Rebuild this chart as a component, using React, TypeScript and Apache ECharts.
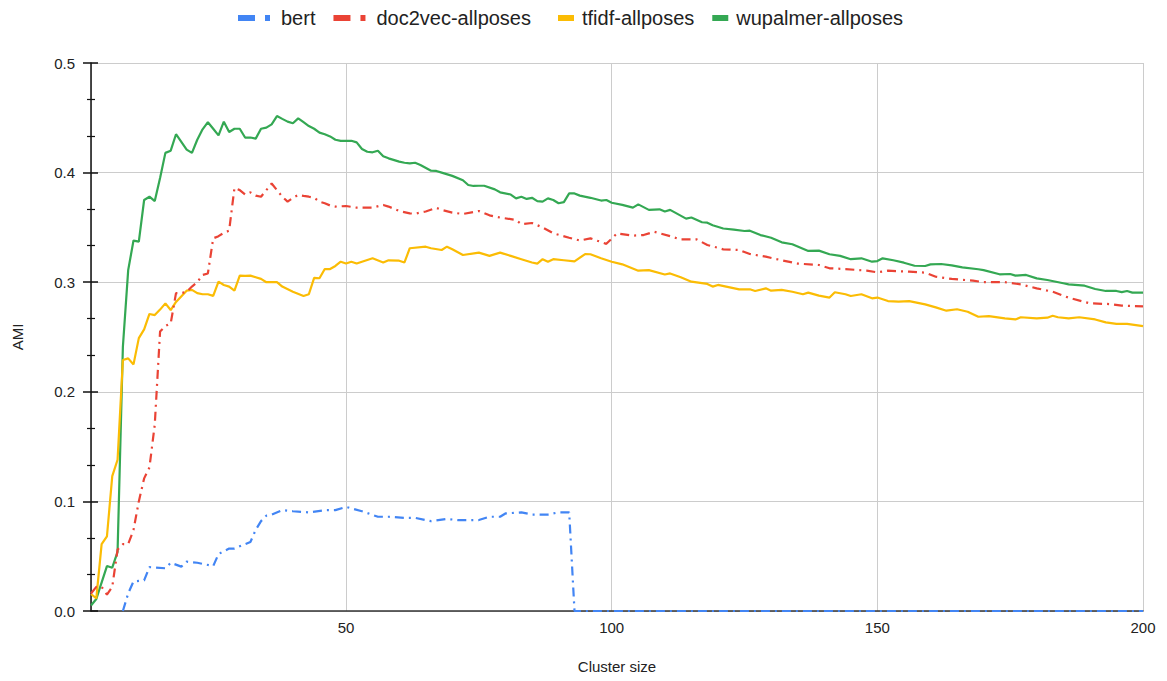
import React, { useEffect, useRef } from "react";
import * as echarts from "echarts";

const seriesNames = ["bert", "doc2vec-allposes", "tfidf-allposes", "wupalmer-allposes"];
const seriesColors = ["#4285F4", "#EA4335", "#FBBC04", "#34A853"];
const yTickLabels = ["0.0", "0.1", "0.2", "0.3", "0.4", "0.5"];

const bertData: [number, number][] = [
  [8, 0.0], [9, 0.016], [10, 0.027], [12, 0.028], [13, 0.04], [16, 0.039], [17, 0.044],
  [19, 0.0405], [20, 0.045], [22, 0.044], [25, 0.041], [26, 0.052], [28, 0.057], [29, 0.057],
  [32, 0.063], [33, 0.074], [34, 0.082], [35, 0.087], [36, 0.088], [38, 0.092], [40, 0.091],
  [43, 0.09], [46, 0.092], [48, 0.092], [50, 0.095], [53, 0.091], [56, 0.086], [58, 0.086],
  [61, 0.085], [63, 0.085], [66, 0.082], [69, 0.084], [71, 0.083], [73, 0.083], [75, 0.083],
  [77, 0.086], [79, 0.086], [80, 0.089], [83, 0.09], [85, 0.088], [88, 0.088], [90, 0.09],
  [92, 0.09], [93, 0.0], [120, 0.0], [150, 0.0], [180, 0.0], [200, 0.0],
];

const doc2vecData: [number, number][] = [
  [2, 0.016], [3, 0.022], [4, 0.022], [5, 0.015], [6, 0.022], [7, 0.056], [8, 0.061], [9, 0.061],
  [10, 0.074], [11, 0.1], [12, 0.121], [13, 0.131], [14, 0.17], [15, 0.255], [16, 0.26],
  [17, 0.2625], [18, 0.29], [19, 0.29], [20, 0.2913], [21, 0.296], [22, 0.3], [23, 0.3066],
  [24, 0.308], [25, 0.34], [26, 0.342], [27, 0.345], [28, 0.347], [29, 0.386], [30, 0.384],
  [31, 0.38], [32, 0.382], [33, 0.379], [34, 0.378], [35, 0.384], [36, 0.39], [37, 0.384],
  [38, 0.378], [39, 0.3735], [40, 0.377], [41, 0.3796], [42, 0.3787], [43, 0.378], [44, 0.377],
  [45, 0.3735], [46, 0.372], [47, 0.37], [48, 0.369], [50, 0.3695], [52, 0.368], [55, 0.368],
  [57, 0.3705], [58, 0.369], [60, 0.365], [62, 0.3628], [63, 0.3625], [65, 0.3645], [67, 0.3678],
  [68, 0.366], [70, 0.3635], [72, 0.3622], [75, 0.365], [77, 0.361], [79, 0.359], [82, 0.3568],
  [83, 0.353], [85, 0.354], [87, 0.35], [89, 0.3446], [92, 0.3406], [94, 0.338], [96, 0.34],
  [99, 0.335], [101, 0.3446], [104, 0.3425], [106, 0.343], [108, 0.346], [111, 0.342],
  [113, 0.339], [116, 0.339], [118, 0.334], [121, 0.33], [124, 0.3294], [126, 0.3257],
  [129, 0.3233], [132, 0.32], [135, 0.317], [139, 0.3157], [141, 0.3127], [144, 0.312],
  [148, 0.3105], [150, 0.309], [152, 0.3105], [156, 0.3096], [159, 0.3087], [161, 0.305],
  [164, 0.303], [168, 0.3014], [170, 0.3], [174, 0.3], [177, 0.298], [180, 0.2944],
  [183, 0.2913], [186, 0.2859], [190, 0.2807], [194, 0.28], [196, 0.2786], [200, 0.278],
];

const tfidfData: [number, number][] = [
  [2, 0.0155], [3, 0.0116], [4, 0.061], [5, 0.068], [6, 0.123], [7, 0.138], [8, 0.229],
  [9, 0.2305], [10, 0.225], [11, 0.249], [12, 0.257], [13, 0.271], [14, 0.27], [15, 0.275],
  [16, 0.2807], [17, 0.2746], [18, 0.282], [20, 0.2923], [21, 0.293], [22, 0.29], [23, 0.289],
  [24, 0.289], [25, 0.2875], [26, 0.3005], [27, 0.2975], [28, 0.296], [29, 0.2923], [30, 0.306],
  [31, 0.3057], [32, 0.306], [33, 0.3045], [34, 0.303], [35, 0.3], [37, 0.3], [38, 0.296],
  [40, 0.2913], [42, 0.2874], [43, 0.289], [44, 0.304], [45, 0.3036], [46, 0.312], [47, 0.312],
  [48, 0.3148], [49, 0.3187], [50, 0.317], [51, 0.3187], [52, 0.317], [53, 0.3187], [55, 0.3218],
  [57, 0.318], [58, 0.32], [60, 0.3196], [61, 0.318], [62, 0.331], [65, 0.3324], [66, 0.331],
  [68, 0.3294], [69, 0.3324], [70, 0.33], [72, 0.3248], [75, 0.327], [77, 0.324], [79, 0.327],
  [81, 0.324], [83, 0.321], [85, 0.318], [86, 0.317], [87, 0.321], [88, 0.3187], [89, 0.321],
  [91, 0.32], [93, 0.319], [95, 0.3257], [96, 0.3255], [98, 0.3218], [100, 0.3187],
  [102, 0.3163], [105, 0.3105], [107, 0.311], [110, 0.307], [111, 0.308], [113, 0.3045],
  [115, 0.3005], [118, 0.2984], [119, 0.296], [120, 0.2975], [124, 0.2935], [126, 0.2935],
  [127, 0.292], [129, 0.2944], [130, 0.2923], [132, 0.293], [134, 0.2913], [136, 0.289],
  [137, 0.2905], [139, 0.2877], [141, 0.286], [142, 0.2908], [144, 0.289], [145, 0.2874],
  [147, 0.289], [149, 0.2853], [150, 0.286], [152, 0.2828], [154, 0.2822], [156, 0.2828],
  [159, 0.2798], [161, 0.277], [163, 0.274], [165, 0.2753], [167, 0.273], [169, 0.2685],
  [171, 0.269], [174, 0.267], [176, 0.266], [177, 0.268], [180, 0.267], [182, 0.2676],
  [183, 0.2694], [184, 0.268], [186, 0.267], [188, 0.268], [191, 0.266], [193, 0.2634],
  [195, 0.262], [197, 0.262], [200, 0.26],
];

const wupalmerData: [number, number][] = [
  [2, 0.005], [3, 0.011], [5, 0.041], [6, 0.0395], [7, 0.054], [8, 0.241], [9, 0.311],
  [10, 0.338], [11, 0.337], [12, 0.375], [13, 0.378], [14, 0.374], [15, 0.395], [16, 0.418],
  [17, 0.42], [18, 0.435], [20, 0.421], [21, 0.418], [22, 0.43], [23, 0.4395], [24, 0.446],
  [25, 0.44], [26, 0.434], [27, 0.4465], [28, 0.437], [29, 0.44], [30, 0.44], [31, 0.432],
  [32, 0.432], [33, 0.431], [34, 0.44], [35, 0.441], [36, 0.444], [37, 0.4516], [38, 0.449],
  [39, 0.4465], [40, 0.445], [41, 0.4495], [42, 0.446], [43, 0.4425], [44, 0.44], [45, 0.4365],
  [46, 0.435], [47, 0.433], [48, 0.43], [49, 0.429], [51, 0.429], [52, 0.4276], [53, 0.4215],
  [54, 0.419], [55, 0.4185], [56, 0.42], [57, 0.415], [58, 0.413], [60, 0.41], [61, 0.409],
  [62, 0.4085], [63, 0.409], [64, 0.407], [66, 0.4017], [67, 0.4015], [68, 0.4], [70, 0.397],
  [72, 0.393], [73, 0.3887], [74, 0.3878], [75, 0.388], [76, 0.388], [78, 0.3847], [79, 0.382],
  [81, 0.38], [82, 0.3765], [83, 0.378], [84, 0.376], [85, 0.377], [86, 0.374], [87, 0.3735],
  [88, 0.3765], [89, 0.375], [90, 0.372], [91, 0.373], [92, 0.381], [93, 0.381], [94, 0.379],
  [96, 0.377], [98, 0.3745], [99, 0.375], [100, 0.3725], [102, 0.3705], [104, 0.368],
  [105, 0.371], [107, 0.366], [109, 0.3665], [110, 0.3645], [111, 0.366], [114, 0.358],
  [115, 0.359], [117, 0.3547], [118, 0.3543], [119, 0.352], [121, 0.349], [123, 0.348],
  [125, 0.3467], [126, 0.347], [128, 0.343], [130, 0.3406], [132, 0.3364], [134, 0.3346],
  [137, 0.3285], [139, 0.3288], [141, 0.3255], [143, 0.324], [145, 0.321], [147, 0.3218],
  [149, 0.3187], [150, 0.3193], [151, 0.3218], [153, 0.32], [155, 0.3178], [157, 0.315],
  [159, 0.3148], [160, 0.3163], [162, 0.3166], [164, 0.3154], [166, 0.3136], [169, 0.3118],
  [170, 0.311], [173, 0.3072], [175, 0.3075], [176, 0.306], [178, 0.3066], [180, 0.3035],
  [182, 0.302], [185, 0.299], [186, 0.298], [189, 0.2968], [191, 0.2938], [193, 0.292],
  [194, 0.292], [195, 0.292], [196, 0.291], [197, 0.292], [198, 0.2905], [200, 0.2905],
];

const allData = [bertData, doc2vecData, tfidfData, wupalmerData];
const dashPattern = [9, 5, 2, 5];

const FONT = "'Liberation Sans', Arial, sans-serif";

export default function App() {
  const ref = useRef<HTMLDivElement>(null);

  useEffect(() => {
    if (!ref.current) return;
    const chart = echarts.init(ref.current, undefined, { renderer: "svg" });

    const dashIcon = "path://M0,0H17V6H0Z M27,0H32V6H27Z";
    const solidIcon = "path://M0,0H16V6H0Z";

    const series = seriesNames.map((name, i) => ({
      name,
      type: "line",
      data: allData[i],
      showSymbol: false,
      symbol: "none",
      xAxisIndex: 0,
      yAxisIndex: 0,
      lineStyle: {
        color: seriesColors[i],
        width: 2.2,
        type: i < 2 ? dashPattern : "solid",
        cap: "butt",
      },
      itemStyle: { color: seriesColors[i] },
      z: 10 - i,
    }));

    chart.setOption({
      animation: false,
      textStyle: { fontFamily: FONT },
      legend: [
        {
          left: 238,
          top: 8,
          padding: 0,
          itemWidth: 32,
          itemHeight: 6,
          itemGap: 18,
          data: [
            { name: seriesNames[0], icon: dashIcon },
            { name: seriesNames[1], icon: dashIcon },
          ],
          textStyle: { fontSize: 20, color: "#222", fontFamily: FONT, padding: [0, 0, 0, 6] },
        },
        {
          left: 558,
          top: 8,
          padding: 0,
          itemWidth: 16,
          itemHeight: 6,
          itemGap: 18,
          data: [
            { name: seriesNames[2], icon: solidIcon },
            { name: seriesNames[3], icon: solidIcon },
          ],
          textStyle: { fontSize: 20, color: "#222", fontFamily: FONT, padding: [0, 0, 0, 3] },
        },
      ],
      grid: { left: 91, right: 24, top: 63, bottom: 70, containLabel: false },
      xAxis: {
        type: "value",
        min: 2,
        max: 200,
        splitNumber: 4,
        name: "Cluster size",
        nameLocation: "middle",
        nameGap: 48,
        nameTextStyle: { fontSize: 15, color: "#222", fontFamily: FONT },
        axisLine: { show: true, onZero: false, lineStyle: { color: "#333", width: 1.5 } },
        axisTick: { show: false },
        axisLabel: {
          showMinLabel: false,
          fontSize: 15,
          color: "#222",
          margin: 9,
          fontFamily: FONT,
        },
        splitLine: { show: true, lineStyle: { color: "#cccccc", width: 1 } },
      },
      yAxis: [
        {
          type: "value",
          min: 0,
          max: 0.5,
          interval: 0.1,
          name: "AMI",
          nameLocation: "middle",
          nameGap: 66,
          nameRotate: 90,
          nameTextStyle: { fontSize: 15, color: "#222", fontFamily: FONT },
          axisLine: { show: true, lineStyle: { color: "#111", width: 1.5 } },
          axisTick: { show: true, length: 8, lineStyle: { color: "#111", width: 1.5 } },
          minorTick: { show: true, splitNumber: 3, length: 4, lineStyle: { color: "#111", width: 1.2 } },
          axisLabel: {
            fontSize: 15,
            color: "#222",
            margin: 16,
            fontFamily: FONT,
            formatter: (v: number) => yTickLabels[Math.round(v * 10)] ?? v.toFixed(1),
          },
          splitLine: { show: true, lineStyle: { color: "#cccccc", width: 1 } },
        },
        {
          type: "value",
          min: 0,
          max: 0.5,
          interval: 0.1,
          position: "left",
          axisLine: { show: false },
          axisTick: { show: true, inside: true, length: 7, lineStyle: { color: "#111", width: 1.5 } },
          minorTick: { show: true, splitNumber: 3, length: 4, lineStyle: { color: "#111", width: 1.2 } },
          axisLabel: { show: false },
          splitLine: { show: false },
        },
      ],
      series,
    });

    return () => chart.dispose();
  }, []);

  return (
    <div
      ref={ref}
      style={{ position: "fixed", left: 0, top: 0, width: 1167, height: 681, background: "#fff" }}
    />
  );
}
